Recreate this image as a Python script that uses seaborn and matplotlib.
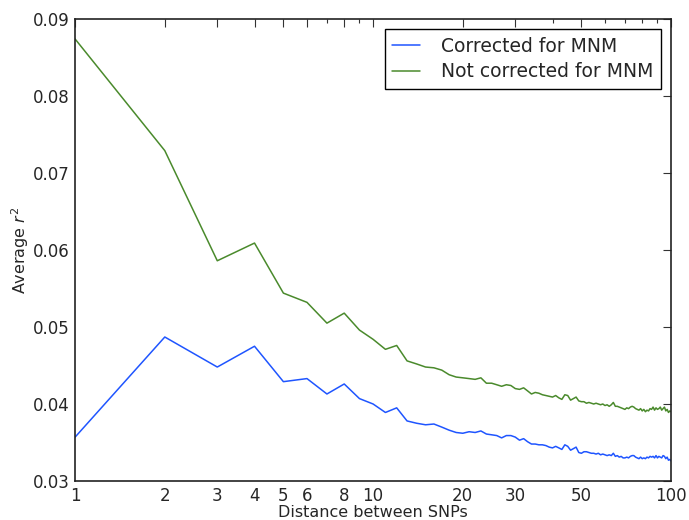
import numpy as np
import pandas as pd
import matplotlib
matplotlib.use("Agg")
import matplotlib.pyplot as plt
import seaborn as sns
from matplotlib.ticker import FixedLocator, NullFormatter

distance = list(range(1, 101))

not_corrected = [
    0.0874, 0.0729, 0.0586, 0.0609, 0.0544, 0.0532, 0.0505, 0.0518, 0.0496, 0.0484,
    0.0471, 0.0476, 0.0456, 0.0452, 0.0448, 0.0447, 0.0444, 0.0438, 0.0435, 0.0434,
    0.0433, 0.0432, 0.0434, 0.0427, 0.0427, 0.0425, 0.0423, 0.0425, 0.0424, 0.0420,
    0.0419, 0.0421, 0.0417, 0.0413, 0.0415, 0.0414, 0.0412, 0.0411, 0.0410, 0.0409,
    0.0411, 0.0408, 0.0406, 0.0412, 0.0411, 0.0405, 0.0407, 0.0409, 0.0404, 0.0403,
    0.0403, 0.0401, 0.0402, 0.0401, 0.0400, 0.0401, 0.0400, 0.0399, 0.0400, 0.0398,
    0.0399, 0.0397, 0.0399, 0.0402, 0.0397, 0.0397, 0.0396, 0.0395, 0.0394, 0.0393,
    0.0395, 0.0394, 0.0396, 0.0397, 0.0396, 0.0394, 0.0393, 0.0392, 0.0394, 0.0391,
    0.0393, 0.0390, 0.0392, 0.0391, 0.0394, 0.0393, 0.0396, 0.0392, 0.0395, 0.0393,
    0.0394, 0.0396, 0.0392, 0.0394, 0.0396, 0.0391, 0.0393, 0.0389, 0.0391, 0.0390,
]

corrected = [
    0.0357, 0.0487, 0.0448, 0.0475, 0.0429, 0.0433, 0.0413, 0.0426, 0.0407, 0.0400,
    0.0389, 0.0395, 0.0378, 0.0375, 0.0373, 0.0374, 0.0370, 0.0366, 0.0363, 0.0362,
    0.0364, 0.0363, 0.0365, 0.0361, 0.0360, 0.0359, 0.0356, 0.0359, 0.0359, 0.0357,
    0.0353, 0.0355, 0.0351, 0.0348, 0.0348, 0.0347, 0.0347, 0.0346, 0.0344, 0.0343,
    0.0345, 0.0343, 0.0341, 0.0347, 0.0345, 0.0340, 0.0342, 0.0344, 0.0337, 0.0336,
    0.0338, 0.0338, 0.0337, 0.0336, 0.0336, 0.0335, 0.0336, 0.0334, 0.0335, 0.0334,
    0.0333, 0.0334, 0.0333, 0.0336, 0.0332, 0.0333, 0.0331, 0.0332, 0.0330, 0.0330,
    0.0331, 0.0330, 0.0332, 0.0333, 0.0333, 0.0331, 0.0330, 0.0329, 0.0331, 0.0329,
    0.0330, 0.0329, 0.0331, 0.0330, 0.0332, 0.0331, 0.0332, 0.0330, 0.0333, 0.0330,
    0.0332, 0.0331, 0.0330, 0.0333, 0.0332, 0.0329, 0.0331, 0.0327, 0.0328, 0.0326,
]

series_names = ["Corrected for MNM", "Not corrected for MNM"]
series_colors = ["#1f55ff", "#4a8a2c"]
x_major_ticks = [1, 2, 3, 4, 5, 6, 8, 10, 20, 30, 50, 100]
x_minor_ticks = [7, 9, 40, 60, 70, 80, 90]
y_ticks = [0.03, 0.04, 0.05, 0.06, 0.07, 0.08, 0.09]

df = pd.DataFrame({
    "distance": distance * 2,
    "r2": corrected + not_corrected,
    "series": [series_names[0]] * len(distance) + [series_names[1]] * len(distance),
})

sns.set_style("white")
plt.rcParams["font.family"] = ["DejaVu Sans"]
plt.rcParams["mathtext.fontset"] = "dejavusans"

fig = plt.figure(figsize=(6.89, 5.2), dpi=100)
ax = fig.add_axes([0.109, 0.075, 0.865, 0.8885])

sns.lineplot(data=df, x="distance", y="r2", hue="series", hue_order=series_names,
             palette=series_colors, linewidth=1.1, ax=ax, estimator=None, sort=True)

ax.set_xscale("log")
ax.set_xlim(1, 100)
ax.set_ylim(0.03, 0.09)
ax.xaxis.set_major_locator(FixedLocator(x_major_ticks))
ax.xaxis.set_minor_locator(FixedLocator(x_minor_ticks))
ax.xaxis.set_minor_formatter(NullFormatter())
ax.set_xticklabels([str(t) for t in x_major_ticks])
ax.set_yticks(y_ticks)
ax.set_yticklabels([f"{t:.2f}" for t in y_ticks])

ax.tick_params(axis="both", which="major", direction="in", length=6, width=0.8,
               top=True, right=True, labelsize=12, color="#333333", pad=4)
ax.tick_params(axis="both", which="minor", direction="in", length=3, width=0.8,
               top=True, right=True, color="#333333")
for s in ax.spines.values():
    s.set_color("#222222")
    s.set_linewidth(1.2)
    s.set_visible(True)

ax.set_xlabel("Distance between SNPs", fontsize=11.5, labelpad=0)
ax.set_ylabel("Average $r^2$", fontsize=11.5, labelpad=1)

leg = ax.legend(loc="upper right", fontsize=13.5, frameon=True, fancybox=False,
                edgecolor="black", framealpha=1, handlelength=1.5, borderpad=0.4,
                labelspacing=0.35, handletextpad=1.1, borderaxespad=0.55)
leg.get_frame().set_linewidth(1.0)

fig.savefig("out.png", dpi=100)
